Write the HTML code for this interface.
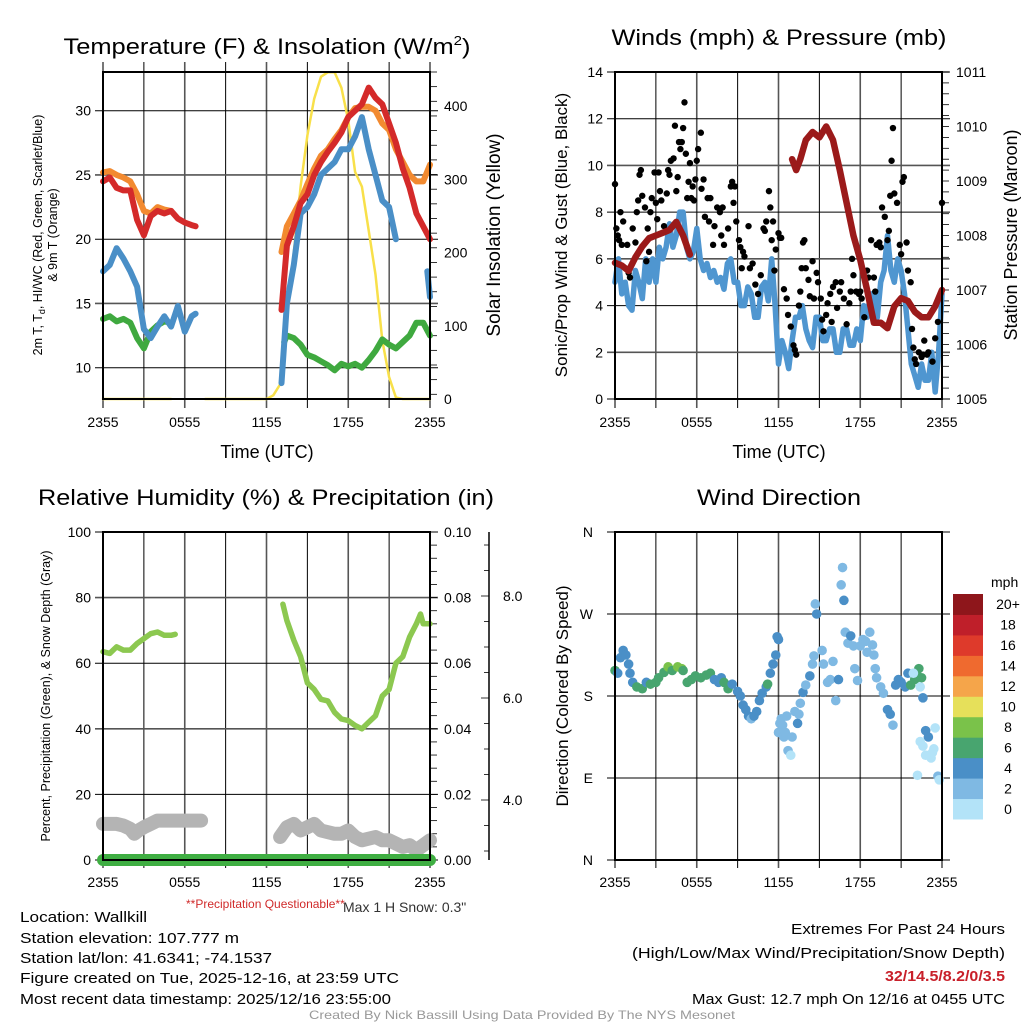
<!DOCTYPE html>
<html><head><meta charset="utf-8">
<style>
html,body{margin:0;padding:0;background:#fff;}
svg{display:block;font-family:"Liberation Sans",sans-serif;}
</style></head>
<body>
<svg id="chart" width="1024" height="1024" viewBox="0 0 1024 1024" xmlns="http://www.w3.org/2000/svg">
<rect width="1024" height="1024" fill="#fff"/>
<g id="layer"></g>
<text x="267" y="54" font-size="22" text-anchor="middle" textLength="407" lengthAdjust="spacingAndGlyphs">Temperature (F) &amp; Insolation (W/m<tspan dy="-9" font-size="13">2</tspan><tspan dy="9">)</tspan></text>
<text x="779" y="45" font-size="22" text-anchor="middle" textLength="335" lengthAdjust="spacingAndGlyphs">Winds (mph) &amp; Pressure (mb)</text>
<text x="266" y="505" font-size="22" text-anchor="middle" textLength="456" lengthAdjust="spacingAndGlyphs">Relative Humidity (%) &amp; Precipitation (in)</text>
<text x="779" y="505" font-size="22" text-anchor="middle" textLength="164" lengthAdjust="spacingAndGlyphs">Wind Direction</text>

<text transform="translate(42,235) rotate(-90)" font-size="12.5" text-anchor="middle">2m T, T<tspan font-size="9" dy="3">d</tspan><tspan dy="-3">, HI/WC (Red, Green, Scarlet/Blue)</tspan></text>
<text transform="translate(57,235) rotate(-90)" font-size="12.5" text-anchor="middle">&amp; 9m T (Orange)</text>
<text transform="translate(500,235) rotate(-90)" font-size="19" text-anchor="middle">Solar Insolation (Yellow)</text>
<text x="267" y="458" font-size="18" text-anchor="middle">Time (UTC)</text>
<text transform="translate(567,235) rotate(-90)" font-size="17" text-anchor="middle">Sonic/Prop Wind &amp; Gust (Blue, Black)</text>
<text transform="translate(1017,235) rotate(-90)" font-size="18" text-anchor="middle">Station Pressure (Maroon)</text>
<text x="779" y="458" font-size="18" text-anchor="middle">Time (UTC)</text>
<text transform="translate(50,696) rotate(-90)" font-size="12.5" text-anchor="middle">Percent, Precipitation (Green), &amp; Snow Depth (Gray)</text>
<text transform="translate(568,696) rotate(-90)" font-size="17" text-anchor="middle">Direction (Colored By Speed)</text>

<text x="186" y="908" font-size="12" fill="#d02a2a">**Precipitation Questionable**</text>
<text x="343" y="912" font-size="14" fill="#333">Max 1 H Snow: 0.3"</text>

<g font-size="15" fill="#000">
<text x="20" y="922" textLength="127" lengthAdjust="spacingAndGlyphs">Location: Wallkill</text>
<text x="20" y="943" textLength="219" lengthAdjust="spacingAndGlyphs">Station elevation: 107.777 m</text>
<text x="20" y="963" textLength="252" lengthAdjust="spacingAndGlyphs">Station lat/lon: 41.6341; -74.1537</text>
<text x="20" y="983" textLength="379" lengthAdjust="spacingAndGlyphs">Figure created on Tue, 2025-12-16, at 23:59 UTC</text>
<text x="20" y="1004" textLength="371" lengthAdjust="spacingAndGlyphs">Most recent data timestamp: 2025/12/16 23:55:00</text>
<text x="1005" y="934" text-anchor="end" textLength="214" lengthAdjust="spacingAndGlyphs">Extremes For Past 24 Hours</text>
<text x="1005" y="958" text-anchor="end" textLength="373" lengthAdjust="spacingAndGlyphs">(High/Low/Max Wind/Precipitation/Snow Depth)</text>
<text x="1005" y="981" text-anchor="end" font-weight="bold" fill="#c8202a" textLength="120" lengthAdjust="spacingAndGlyphs">32/14.5/8.2/0/3.5</text>
<text x="1005" y="1004" text-anchor="end" textLength="313" lengthAdjust="spacingAndGlyphs">Max Gust: 12.7 mph On 12/16 at 0455 UTC</text>
</g>
<text x="522" y="1019" font-size="12" fill="#999" text-anchor="middle" textLength="426" lengthAdjust="spacingAndGlyphs">Created By Nick Bassill Using Data Provided By The NYS Mesonet</text>
</svg>
<script>
// ---- data (hours since 2355 UTC) ----
const timeTickLabels = ["2355","0555","1155","1755","2355"];
const tempTicks = [10,15,20,25,30];
const solarTicks = [0,100,200,300,400];
const windTicks = [0,2,4,6,8,10,12,14];
const pressTicks = [1005,1006,1007,1008,1009,1010,1011];
const rhTicks = [0,20,40,60,80,100];
const precipTicks = ["0.00","0.02","0.04","0.06","0.08","0.10"];
const snowTicks = [4,6,8];
const dirTickLabels = ["N","E","S","W","N"];

const redT = [[0,24.5],[0.5,24.8],[1,24],[1.5,23.8],[2,23.8],[2.5,21.5],[3,20.3],[3.5,21.8],[4,22.2],[4.5,22],[5,22.2],[5.5,21.6],[6,21.3],[6.5,21.1],[6.8,21],null,
 [13.1,14.5],[13.5,19.5],[14,21],[14.5,22.8],[15,23.5],[15.5,25],[16,26],[16.5,26.8],[17,27.5],[17.5,28.3],[18,29.5],[18.5,30],[19,30.5],[19.5,31.8],[20,31],[20.5,30.5],[21,29],[21.5,27.5],[22,25.5],[22.5,24],[23,22],[23.5,21],[24,20]];
const orangeT = [[0,25.2],[0.5,25.3],[1,25],[1.5,24.8],[2,24.5],[2.5,23.5],[3,22.2],[3.5,22],[4,22.5],[4.5,22.3],[5,22.2],null,
 [13.1,19],[13.5,21],[14,22],[14.5,23],[15,24.3],[15.5,25.5],[16,26.5],[16.5,27],[17,27.8],[17.5,28.5],[18,29.5],[18.5,30.2],[19,30.3],[19.5,30.3],[20,30],[20.5,29],[21,28.5],[21.5,27],[22,26],[22.5,25],[23,24.5],[23.5,24.5],[24,25.8]];
const blueT = [[0,17.5],[0.5,18],[1,19.3],[1.5,18.5],[2,17.5],[2.5,16.3],[3,13],[3.5,12.3],[4,13.2],[4.5,14],[5,13.2],[5.5,14.8],[6,12.8],[6.5,14],[6.8,14.2],null,
 [13.1,8.8],[13.5,15],[14,18],[14.5,22],[15,22.5],[15.5,23.5],[16,25],[16.5,25.5],[17,26],[17.5,27],[18,27],[18.5,28],[19,29.5],[19.5,27],[20,25],[20.5,23],[21,22.5],[21.5,20],null,[23.8,17.5],[24,15.5]];
const greenT = [[0,13.8],[0.5,14],[1,13.6],[1.5,13.8],[2,13.5],[2.5,12.3],[3,11.5],[3.5,12.8],[4,13.3],[4.5,13.6],[5,13.5],null,
 [13.3,12],[13.5,12.5],[14,12.3],[14.5,11.8],[15,11],[15.5,10.8],[16,10.5],[16.5,10.2],[17,9.8],[17.5,10.3],[18,10.1],[18.5,10.3],[19,10],[19.5,10.6],[20,11.3],[20.5,12.2],[21,11.8],[21.5,11.5],[22,12],[22.5,12.5],[23,13.5],[23.5,13.5],[24,12.5]];
const solar = [[0,0],[5,0],null,[7.5,0],[12,0],[12.5,5],[13,20],[13.5,110],[14,200],[14.5,290],[15,360],[15.5,410],[16,440],[16.5,446],[17,446],[17.5,425],[18,380],[18.5,310],[19,290],[19.5,230],[20,170],[20.5,80],[21,30],[21.5,2],[22,0],[24,0]];

const windSpd = [[0,5],[0.25,6],[0.5,4.5],[0.75,5],[1,4],[1.25,3.8],[1.5,5.5],[1.75,5],[2,4.3],[2.25,6],[2.5,5],[2.75,6],[3,5],[3.25,6.5],[3.5,6],[3.75,6.5],[4,7.5],[4.25,6.5],[4.5,7],[4.75,8],[5,8],[5.25,6.5],[5.5,6],[5.75,6.3],[6,7.3],[6.25,6],[6.5,5.5],[6.75,5.8],[7,5.2],[7.25,5.5],[7.5,5],[7.75,5.2],[8,4.7],[8.25,5.8],[8.5,6],[8.75,5],[9,5],[9.25,4],[9.5,4],[9.75,4.8],[10,4.5],[10.25,3.5],[10.5,3.5],[10.75,4.8],[11,5],[11.25,4.2],[11.5,6],[11.75,4],[12,1.5],[12.25,2.5],[12.5,2],[12.75,1.3],[13,2.5],[13.25,3.5],[13.5,3.5],[13.75,4],[14,3],[14.25,2.5],[14.5,2.2],[14.75,3.5],[15,3.5],[15.25,2.5],[15.5,2.5],[15.75,3],[16,3],[16.25,2],[16.5,2],[16.75,3],[17,3],[17.25,2.3],[17.5,2.3],[17.75,3],[18,2.5],[18.25,4],[18.5,3.5],[18.75,4.5],[19,4.5],[19.25,3.5],[19.5,5],[19.75,5.5],[20,7],[20.25,5.5],[20.5,5],[20.75,6],[21,5.5],[21.25,4.5],[21.5,3],[21.75,1.5],[22,1],[22.25,0.5],[22.5,1.5],[22.75,0.8],[23,0.8],[23.25,2],[23.5,0.3],[23.75,2],[24,4.5]];
const gustT = [0,0.1,0.2,0.3,0.4,0.5,0.6,0.9,1,1.1,1.3,1.5,1.6,1.7,1.8,1.9,2,2.2,2.3,2.4,2.5,2.6,2.7,2.9,3,3.1,3.2,3.3,3.4,3.6,3.8,3.9,4,4.1,4.3,4.4,4.5,4.6,4.7,4.8,4.9,5,5.1,5.2,5.3,5.4,5.5,5.6,5.7,5.8,5.9,6,6.1,6.3,6.35,6.5,6.6,6.8,6.9,7,7.2,7.3,7.5,7.7,7.8,7.9,8,8.3,8.5,8.6,8.7,8.8,8.9,9.1,9.2,9.3,9.4,9.5,9.8,9.9,10.1,10.3,10.5,10.7,10.9,11,11.1,11.3,11.4,11.5,11.6,11.7,11.8,12,12.1,12.2,12.4,12.6,12.7,12.9,13.1,13.2,13.3,13.5,13.6,13.7,13.8,13.9,14,14.2,14.3,14.5,14.6,14.8,14.9,15.1,15.2,15.3,15.5,15.6,15.8,15.9,16,16.2,16.3,16.5,16.6,16.8,17,17.2,17.3,17.4,17.5,17.7,17.9,18,18.1,18.3,18.5,18.6,18.8,19,19.1,19.2,19.4,19.5,19.6,19.8,20,20.1,20.2,20.3,20.4,20.5,20.7,20.9,21,21.1,21.2,21.4,21.5,21.7,21.8,21.9,22,22.1,22.3,22.5,22.6,22.7,22.9,23,23.3,23.5,23.7,24];
const gustV = [9.2,7.3,7,6.8,8,6.6,7.6,6.6,5.4,5.2,7.3,6.7,8,8.5,9.6,9.8,8.7,8.2,5.9,7.3,6.3,8,8.6,9.7,8.4,7.7,9.7,8.9,8.5,7.4,8.8,9.8,9.6,10.2,10.3,11.7,8.9,9.5,11,10.7,11,11.6,12.7,10.5,8.6,9.3,10.1,8.6,9.1,8.5,9.4,10.2,10.7,11.4,9,9.4,7.8,8.6,7.6,8.6,6.6,7.4,8.2,8,7,8.2,6.6,7.3,9.1,9.3,8.4,9.1,7.6,6.8,6.5,5.6,6.3,6.1,7.4,5.6,5.8,4.9,4.5,5.3,7.3,7.2,7.6,8.9,8.2,6.8,7.6,5.5,6.4,7.1,6.9,6.9,4.7,4.3,3.6,3.1,2.3,2.1,1.9,4,4.6,5.6,6.7,6.8,5.6,5.1,4.4,5.9,4.3,5.4,5,4.3,3.4,2.9,3.6,4.1,4.5,3.3,4.8,5,3.9,4.6,5,4.3,3.2,4.1,4.6,6,5.3,4.6,4.5,4.6,4.3,3.5,5.5,5.2,6.8,5.2,4.6,6.6,6.7,6.5,8.2,7.8,6.8,7.2,8.7,10.2,11.6,8.8,8.4,6.6,6.2,9.3,9.5,6.7,5.5,5,3,2.2,1.7,1.5,2,1.8,1.9,2.5,1.9,2,1.6,2.6,3.3,8.4];
const pressure = [[0,1007.5],[0.5,1007.45],[1,1007.35],[1.5,1007.6],[2,1007.8],[2.5,1007.95],[3,1008.0],[3.5,1008.05],[4,1008.1],[4.5,1008.25],[5,1008.0],[5.5,1007.65],null,
 [13,1009.4],[13.3,1009.2],[13.6,1009.4],[14,1009.75],[14.5,1009.9],[15,1009.8],[15.5,1010.0],[16,1009.75],[16.5,1009.2],[17,1008.6],[17.5,1008.0],[18,1007.55],[18.5,1007.0],[19,1006.4],[19.5,1006.4],[20,1006.3],[20.5,1006.7],[21,1006.85],[21.5,1006.8],[22,1006.6],[22.5,1006.5],[23,1006.5],[23.5,1006.7],[24,1007.0]];

const rh = [[0,63.5],[0.5,63],[1,65],[1.5,64],[2,64],[2.5,66],[3,67.5],[3.5,69],[4,69.5],[4.5,68.5],[5,68.5],[5.3,68.8],null,
 [13.2,78],[13.5,73],[14,67],[14.5,62],[15,54],[15.5,52],[16,49],[16.5,48.5],[17,45],[17.5,43],[18,42.5],[18.5,41],[19,40],[19.5,42],[20,44],[20.5,50],[21,52],[21.5,60],[22,62],[22.5,68],[23,72],[23.3,75],[23.5,72],[24,72]];
const snowDepth = [[0,11],[1,11],[1.5,10.5],[2,9.5],[2.3,8],[2.6,9],[3,10],[3.5,11],[4,12],[5,12],[6,12],[7.2,12],null,
 [13,7],[13.5,10],[14,11],[14.5,9],[15,10],[15.5,11],[16,9],[17,8],[17.5,8],[18,9],[18.5,7],[19,6],[20,7],[20.5,6],[21,6],[21.5,5],[22,4],[22.5,4.5],[23,3],[24,6]];
const precip = [[0,0],[24,0]];

const dirT = [0,0.2,0.4,0.6,0.8,1,1.1,1.3,1.6,2,2.3,2.6,3,3.2,3.6,3.9,4.2,4.6,4.9,5,5.3,5.6,5.9,6.3,6.7,7,7.3,7.6,7.8,8,8.3,8.6,9,9.2,9.4,9.6,9.8,10,10.2,10.4,10.6,10.8,11.1,11.2,11.4,11.6,11.8,11.9,12,12,12.1,12.2,12.3,12.4,12.5,12.6,12.7,12.9,13,13.2,13.4,13.5,13.6,13.8,14,14.3,14.5,14.6,14.7,14.8,15.2,15.3,15.6,15.8,16,16.2,16.4,16.6,16.7,16.8,16.9,17.1,17.3,17.5,17.6,17.8,18,18.2,18.4,18.5,18.7,18.9,19,19.1,19.2,19.5,19.7,20,20.2,20.4,20.6,20.8,21,21.3,21.5,21.7,22,22.1,22.3,22.5,22.6,22.8,23,23.1,23.2,23.3,23.4,22.4,22.6,22.8,23.5,23.7,23.8,22.2,22.4,21.9];
const dirDeg = [208,205,222,230,225,215,205,195,190,188,195,193,195,200,206,212,208,212,210,208,195,198,202,200,203,205,198,195,200,195,188,193,185,180,170,165,158,155,158,163,175,183,190,193,205,215,225,245,242,140,150,155,148,135,140,158,120,115,135,163,150,160,172,184,192,202,215,224,281,270,230,215,195,198,218,175,198,302,321,285,250,238,246,235,210,197,235,242,240,228,250,236,225,210,200,190,183,165,160,148,192,198,195,190,205,192,198,205,210,200,178,142,135,115,112,118,122,130,125,115,145,92,88,93,190,205,180,205,200,196];
const dirSpd = [6,4,4,4,4,4,4,4,6,6,4,6,6,6,6,8,6,8,8,6,6,6,6,6,6,6,4,4,4,6,6,4,4,4,4,4,4,2,4,4,4,4,4,6,4,4,4,4,4,2,2,2,2,2,2,2,2,0,2,2,4,2,2,4,2,4,2,2,2,4,2,2,2,2,2,2,4,2,2,4,2,2,4,2,2,2,2,2,2,2,2,2,2,2,2,2,2,4,4,2,4,4,4,4,4,6,6,6,6,6,4,4,4,2,0,0,0,0,0,0,0,2,0,0,0,0,0,2,4,4,4,4,4];
const speedBins = ["0","2","4","6","8","10","12","14","16","18","20+"];
const speedColors = ["#b3e3f8","#7fb9e3","#4a8fc7","#48a56f","#7ac24a","#e6e05a","#f5a54a","#ef6a2f","#de3a2b","#bf1f2a","#8e161b"];

// ---- drawing ----
const NS="http://www.w3.org/2000/svg";
const layer=document.getElementById('layer');
function el(tag,attrs,parent){const e=document.createElementNS(NS,tag);for(const k in attrs)e.setAttribute(k,attrs[k]);(parent||layer).appendChild(e);return e;}
function lin(d0,d1,r0,r1){return v=>r0+(v-d0)*(r1-r0)/(d1-d0);}
function pathD(pts,xs,ys){let d='',pen=false;for(const p of pts){if(!p){pen=false;continue;}d+=(pen?'L':'M')+xs(p[0]).toFixed(1)+','+ys(p[1]).toFixed(1);pen=true;}return d;}

function frame(x0,y0,name,hlines,topTicks){
  const g=el('g',{});
  
  
  const xs=lin(0,24,x0,x0+327);
  for(let i=0;i<=8;i++){
    const x=xs(i*3);
    const l=el('line',{x1:x,y1:y0-(topTicks?10:0),x2:x,y2:y0+328+8,stroke:i%2?'#000':'#555','stroke-width':i%2?1:1.6},g);
    
    
  }
  timeTickLabels.forEach((t,i)=>{
    const tx=el('text',{x:xs(i*6),y:y0+355,'font-size':14,'text-anchor':'middle'},g);
    tx.textContent=t;
    
    
  });
  return {g,xs};
}
function hline(g,y,x0,x1,name,gray){
  const l=el('line',{x1:x0,y1:y,x2:x1,y2:y,stroke:gray?'#555':'#000','stroke-width':gray?1.6:1},g);
  
  
}
function label(g,x,y,txt,anchor,name,size){
  const t=el('text',{x:x,y:y+5,'font-size':size||14,'text-anchor':anchor},g);
  t.textContent=txt;
  
  
}
function minor(g,x,y0,y1,step,name){
  for(let y=y0;y<=y1+0.1;y+=step){
    const l=el('line',{x1:x,y1:y,x2:x+7,y2:y,stroke:'#000','stroke-width':0.8},g);
    
    
  }
}
function line(g,pts,xs,ys,color,w,name,cap){
  const p=el('path',{d:pathD(pts,xs,ys),fill:'none',stroke:color,'stroke-width':w,'stroke-linejoin':'round','stroke-linecap':cap||'round'},g);
  
  
}

// Panel 1
(function(){
  const X0=103,Y0=72;
  const {g,xs}=frame(X0,Y0,'temperature',0,true);
  const ys=lin(10,30,367.7,110.7);
  const ss=lin(0,400,399,106);
  tempTicks.forEach(v=>{hline(g,ys(v),X0-8,X0+327+8,'temp-grid-line',v%10!==0);label(g,X0-12,ys(v),v,'end','temp-tick-label');});
  solarTicks.forEach(v=>label(g,X0+327+14,ss(v),v,'start','solar-tick-label'));
  minor(g,X0+327,Y0,399,(399-106)/20,'solar-minor-tick');
  line(g,solar,xs,ss,'#f8e04a',2.5,'solar-insolation-line');
  line(g,greenT,xs,ys,'#3fa93f',6,'dewpoint-line');
  line(g,blueT,xs,ys,'#4a8fc7',6,'windchill-line');
  line(g,orangeT,xs,ys,'#f28a30',6,'temp-9m-line');
  line(g,redT,xs,ys,'#d42a2a',6,'temp-2m-line');
  const b=el('rect',{x:X0,y:Y0,width:327,height:327,fill:'none',stroke:'#000','stroke-width':2},g);
  
  
})();

// Panel 2
(function(){
  const X0=615,Y0=72;
  const {g,xs}=frame(X0,Y0,'winds',0,false);
  const ws=lin(0,14,399,72);
  const ps=lin(1005,1011,399,72);
  windTicks.forEach(v=>{hline(g,ws(v),X0-8,X0+327+8,'wind-grid-line',v%4===2);label(g,X0-12,ws(v),v,'end','wind-tick-label');});
  pressTicks.forEach(v=>label(g,X0+327+14,ps(v),v,'start','pressure-tick-label'));
  minor(g,X0+327,Y0,399,(ps(1005)-ps(1006))/5,'pressure-minor-tick');
  line(g,windSpd,xs,ws,'#4f96d0',5.5,'sustained-wind-line');
  gustT.forEach((t,i)=>{
    const c=el('circle',{cx:xs(t),cy:ws(gustV[i]),r:3.2,fill:'#000'},g);
    
    
  });
  line(g,pressure,xs,ps,'#9b1a1a',6.5,'pressure-line');
  const b=el('rect',{x:X0,y:Y0,width:327,height:327,fill:'none',stroke:'#000','stroke-width':2},g);
  
  
})();

// Panel 3
(function(){
  const X0=103,Y0=532;
  const {g,xs}=frame(X0,Y0,'humidity',0,false);
  const ys=lin(0,100,860,532);
  rhTicks.forEach((v,i)=>{hline(g,ys(v),X0-8,X0+327+8,'rh-grid-line',v%40===0&&v>0);label(g,X0-12,ys(v),v,'end','rh-tick-label');label(g,X0+327+14,ys(v),precipTicks[i],'start','precip-tick-label');});
  minor(g,X0+327,Y0,860,ys(0)-ys(4),'precip-minor-tick');
  const sx=489, sy=lin(4,6,800,698);
  const ax=el('line',{x1:sx,y1:532,x2:sx,y2:860,stroke:'#000','stroke-width':1.5},g);
  
  
  for(let v=3;v<=9;v+=0.5){const y=sy(v);if(y<532||y>860)continue;
    const l=el('line',{x1:sx-(v%2===0?8:5),y1:y,x2:sx,y2:y,stroke:'#000','stroke-width':0.8},g);
    
    }
  snowTicks.forEach(v=>label(g,sx+14,sy(v),v.toFixed(1),'start','snow-tick-label'));
  line(g,snowDepth,xs,ys,'#b4b4b4',14,'snow-depth-line');
  line(g,rh,xs,ys,'#8cc850',5.5,'relative-humidity-line');
  line(g,precip,xs,ys,'#3fae42',12,'precipitation-line');
  const b=el('rect',{x:X0,y:Y0,width:327,height:328,fill:'none',stroke:'#000','stroke-width':2},g);
  
  
})();

// Panel 4
(function(){
  const X0=615,Y0=532;
  const {g,xs}=frame(X0,Y0,'direction',0,false);
  const ds=lin(0,360,860,532);
  dirTickLabels.forEach((t,i)=>{hline(g,ds(i*90),X0-8,X0+327+8,'direction-grid-line',false);label(g,X0-22,ds(i*90),t,'end','direction-tick-label');});
  dirT.forEach((t,i)=>{
    const bin=Math.min(10,Math.max(0,Math.round(dirSpd[i]/2)));
    const c=el('circle',{cx:xs(t),cy:ds(dirDeg[i]),r:4.8,fill:speedColors[bin]},g);
    
    
  });
  const b=el('rect',{x:X0,y:Y0,width:327,height:328,fill:'none',stroke:'#000','stroke-width':2},g);
  
  
  const lg=el('g',{});
  
  
  const t=el('text',{x:991,y:587,'font-size':14},lg);
  t.textContent='mph';
  
  
  const h=225/11;
  speedBins.forEach((s,i)=>{
    const y=819-(i+1)*h;
    const r=el('rect',{x:953,y:y,width:30,height:h+0.5,fill:speedColors[i]},lg);
    
    
    const tx=el('text',{x:1008,y:y+h/2+5,'font-size':14,'text-anchor':'middle'},lg);
    tx.textContent=s;
    
    
  });
})();
</script>
</body></html>
